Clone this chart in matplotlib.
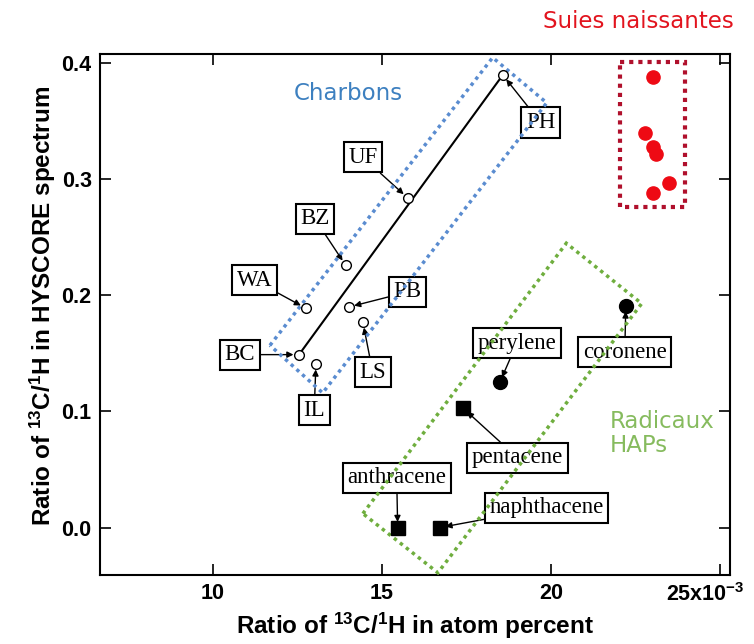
import matplotlib
matplotlib.use("Agg")
import matplotlib.pyplot as plt
import matplotlib.transforms as mtransforms
from matplotlib.patches import Polygon

plt.rcParams['font.family'] = ['Liberation Sans', 'DejaVu Sans']
plt.rcParams['mathtext.fontset'] = 'custom'
plt.rcParams['mathtext.rm'] = 'Liberation Sans:bold'
plt.rcParams['mathtext.bf'] = 'Liberation Sans:bold'
plt.rcParams['mathtext.default'] = 'bf'

# ---- data (x in units of 1e-3) ----
coal_names = ["PH", "UF", "BZ", "WA", "PB", "LS", "BC", "IL"]
coal_x = [18.58, 15.77, 13.93, 12.75, 14.02, 14.44, 12.55, 13.05]
coal_y = [0.390, 0.284, 0.226, 0.189, 0.190, 0.177, 0.149, 0.141]

pah_circle_names = ["perylene", "coronene"]
pah_circle_x = [18.49, 22.22]
pah_circle_y = [0.125, 0.191]

pah_square_names = ["pentacene", "anthracene", "naphthacene"]
pah_square_x = [17.40, 15.47, 16.72]
pah_square_y = [0.103, 0.000, 0.000]

soot_x = [23.02, 22.78, 23.02, 23.11, 23.49, 23.02]
soot_y = [0.388, 0.340, 0.328, 0.322, 0.297, 0.288]

x_ticks = [10, 15, 20, 25]
x_tick_labels = ["10", "15", "20", r"25x10$^{-3}$"]
y_ticks = [0.0, 0.1, 0.2, 0.3, 0.4]
y_tick_labels = ["0.0", "0.1", "0.2", "0.3", "0.4"]

# label box positions
coal_label_pos = [(19.70, 0.349), (14.44, 0.319), (13.02, 0.266), (11.24, 0.213),
                  (15.77, 0.203), (14.73, 0.134), (10.80, 0.149), (13.00, 0.101)]
pah_circle_label_pos = [(19.00, 0.159), (22.19, 0.151)]
pah_square_label_pos = [(19.02, 0.060), (15.44, 0.043), (19.88, 0.017)]

# highlight regions (corners)
coal_region = [(11.69, 0.157), (18.28, 0.405), (19.88, 0.366), (13.25, 0.116)]
pah_region = [(14.44, 0.012), (20.46, 0.245), (22.69, 0.193), (16.66, -0.039)]
soot_region = [(22.04, 0.401), (23.96, 0.401), (23.96, 0.276), (22.04, 0.276)]

fig = plt.figure(figsize=(7.54, 6.44), dpi=100)
ax = fig.add_axes([0.1326, 0.107, 0.968 - 0.1326, 0.916 - 0.107])
ax.set_xlim(6.66, 25.3)
ax.set_ylim(-0.041, 0.408)

# regression line
ax.plot([coal_x[6], coal_x[0]], [coal_y[6], coal_y[0]], color='black', lw=1.5, zorder=3)

box = dict(boxstyle='square,pad=0.2', fc='white', ec='black', lw=1.5)
arrow = dict(arrowstyle='-|>', color='black', lw=1.0, shrinkA=0, shrinkB=4, mutation_scale=9)
serif = ['Liberation Serif', 'DejaVu Serif']

def label_points(names, xs, ys, pos):
    for n, x, y, p in zip(names, xs, ys, pos):
        ax.annotate(n, xy=(x, y), xytext=p, ha='center', va='center', fontsize=16.5,
                    family=serif, bbox=box, arrowprops=arrow, zorder=2)

label_points(coal_names, coal_x, coal_y, coal_label_pos)
label_points(pah_circle_names, pah_circle_x, pah_circle_y, pah_circle_label_pos)
label_points(pah_square_names, pah_square_x, pah_square_y, pah_square_label_pos)

ax.plot(coal_x, coal_y, 'o', ms=7, mfc='white', mec='black', mew=1.0, ls='none', zorder=5)
ax.plot(pah_circle_x, pah_circle_y, 'o', ms=10, color='black', ls='none', zorder=5)
ax.plot(pah_square_x, pah_square_y, 's', ms=10, color='black', ls='none', zorder=5)
ax.plot(soot_x, soot_y, 'o', ms=9.5, color='#ee0a14', ls='none', zorder=5)

dot = (0, (1, 1.2))
ax.add_patch(Polygon(coal_region, closed=True, fill=False, ec='#5a8cd0', lw=2.5, ls=dot, zorder=4))
ax.add_patch(Polygon(pah_region, closed=True, fill=False, ec='#6fae3e', lw=2.5, ls=dot, zorder=4))
ax.add_patch(Polygon(soot_region, closed=True, fill=False, ec='#b0102c', lw=3, ls=dot, zorder=4))

ax.text(14.0, 0.374, "Charbons", color='#3d80c0', fontsize=16.5, family='DejaVu Sans',
        ha='center', va='center')
ax.text(21.75, 0.081, "Radicaux\nHAPs", color='#86bb5e', fontsize=16.5, family='DejaVu Sans',
        ha='left', va='center', linespacing=1.1)
fig.text(638 / 754, 1 - 22 / 644, "Suies naissantes", color='#e2141e', fontsize=16.5,
         family='DejaVu Sans', ha='center', va='center')

ax.set_xticks(x_ticks)
ax.set_xticklabels(x_tick_labels)
ax.set_yticks(y_ticks)
ax.set_yticklabels(y_tick_labels)
ax.tick_params(direction='in', length=8, width=1.2, top=True, right=True, labelsize=15.5, pad=6)
for lab in ax.get_xticklabels() + ax.get_yticklabels():
    lab.set_fontweight('bold')
last = ax.get_xticklabels()[-1]
last.set_transform(last.get_transform() + mtransforms.ScaledTranslation(-14 / 100, 0, fig.dpi_scale_trans))
for s in ax.spines.values():
    s.set_linewidth(1.5)

ax.set_xlabel(r"Ratio of $^{13}$C/$^{1}$H in atom percent", fontsize=17.5, fontweight='bold')
ax.xaxis.set_label_coords(0.5, -0.068)
ax.set_ylabel(r"Ratio of $^{13}$C/$^{1}$H in HYSCORE spectrum", fontsize=17.5, fontweight='bold')
ax.yaxis.set_label_coords(-0.067, 0.516)

fig.savefig("out.png", dpi=100)
